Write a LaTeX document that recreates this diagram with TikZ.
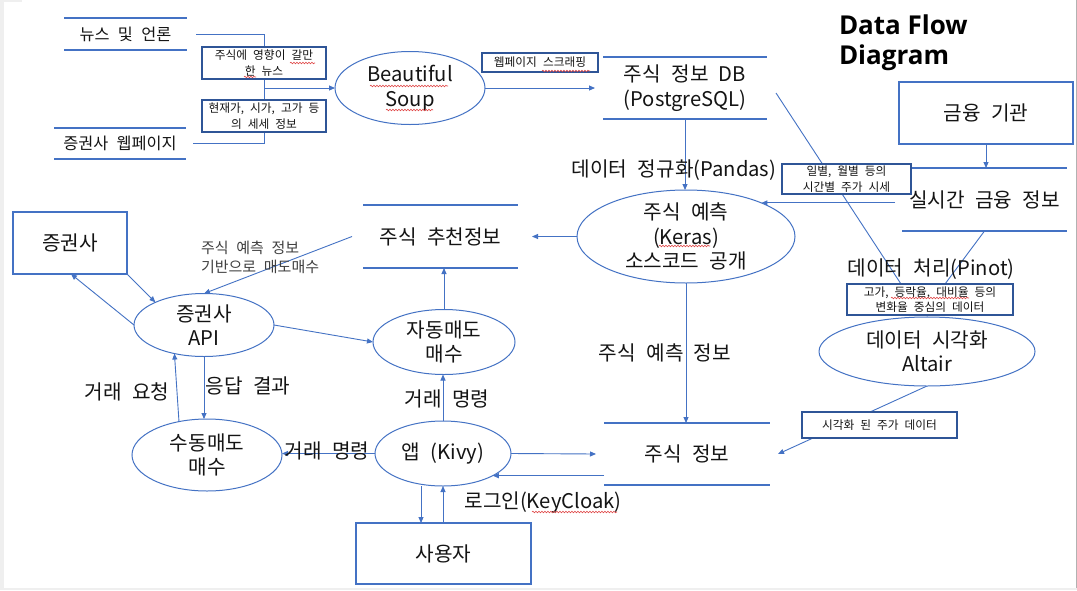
\documentclass[tikz,border=0pt]{standalone}
\usepackage{fontspec}
\setmainfont{Noto Sans CJK KR}[WordSpace=2.3]
\newfontfamily\titlefont{Open Sans}
\usetikzlibrary{shapes.geometric,arrows.meta,decorations.pathmorphing}
\definecolor{lineblue}{HTML}{4472C4}
\definecolor{boxblue}{HTML}{2F5597}
\definecolor{txt}{HTML}{141414}
\definecolor{txtb}{HTML}{404040}
\definecolor{pagegray}{HTML}{EFEFEF}
\definecolor{squig}{HTML}{E04848}
\pgfdeclarelayer{paper}
\pgfdeclarelayer{links}
\pgfsetlayers{paper,links,main}
\begin{document}
\begin{tikzpicture}[x=1pt,y=-1pt,
  every node/.style={text=txt,inner sep=0pt,outer sep=0pt},
  big/.style={font=\fontsize{20.2}{24.5}\selectfont,align=center},
  midtext/.style={font=\fontsize{16.3}{20}\selectfont,align=center},
  smalltext/.style={font=\fontsize{11.7}{15.5}\selectfont,align=center},
  storeline/.style={draw=lineblue,line width=1.6pt},
  proc/.style={ellipse,draw=lineblue,line width=1pt,fill=white},
  ext/.style={rectangle,draw=lineblue,line width=1.2pt,fill=white,big},
  lbox/.style={rectangle,draw=boxblue,line width=1.2pt,fill=white,smalltext},
  flow/.style={draw=lineblue,line width=0.9pt,-{Triangle[length=6pt,width=5pt]}},
  plain/.style={draw=lineblue,line width=0.9pt},
  squiggle/.style={draw=squig,line width=0.6pt,decorate,decoration={snake,amplitude=0.8pt,segment length=3pt}}
]
\useasboundingbox (0,0) rectangle (1077,590);
\begin{pgfonlayer}{paper}
  \fill[pagegray] (0,0) rectangle (1077,590);
  \fill[white] (4,0) rectangle (1076,588);
  \fill[pagegray] (4,0) rectangle (22,2);
  \draw[black!30,line width=1pt] (1076.5,0) -- (1076.5,588);
\end{pgfonlayer}

% stores and processes
\node[midtext,minimum width=123,minimum height=32] (news) at (125.5,34) {뉴스 및 언론};
\node[midtext,minimum width=132,minimum height=31] (web) at (120,143.5) {증권사 웹페이지};
\node[proc,minimum width=150,minimum height=73,label={[big]center:Beautiful\\Soup}] (soup) at (410,88) {};
\node[big,minimum width=164,minimum height=62] (db) at (685,88) {주식 정보 DB\\(PostgreSQL)};
\node[proc,minimum width=218,minimum height=93,label={[big]center:주식 예측\\(Keras)\\소스코드 공개}] (keras) at (686,236.5) {};
\node[big] (norm) at (674,170) {데이터 정규화(Pandas)};
\node[ext,minimum width=174,minimum height=62] (fin) at (986,113) {금융 기관};
\node[big,minimum width=165,minimum height=63] (rt) at (984.5,199.5) {실시간 금융 정보};
\node[big] (pinot) at (931,269) {데이터 처리(Pinot)};
\node[proc,minimum width=216,minimum height=69,label={[big]center:데이터 시각화\\Altair}] (altair) at (927,351.5) {};
\node[big,minimum width=166,minimum height=62] (si) at (687,454) {주식 정보};
\node[big] (predlbl) at (665,353) {주식 예측 정보};
\node[big,minimum width=155,minimum height=63] (rec) at (440.5,236.5) {주식 추천정보};
\node[ext,minimum width=114,minimum height=62] (sec) at (70,243) {증권사};
\node[font=\fontsize{15}{19}\selectfont,align=left,anchor=west,text=txtb] (basis) at (201,257.5) {주식 예측 정보\\기반으로 매도매수};
\node[proc,minimum width=140,minimum height=63,label={[big]center:증권사\\API}] (api) at (204,325) {};
\node[proc,minimum width=142,minimum height=65,label={[big]center:자동매도\\매수}] (auto) at (444,342) {};
\node[proc,minimum width=150,minimum height=72,label={[big]center:수동매도\\매수}] (manual) at (207,455) {};
\node[proc,minimum width=136,minimum height=65,label={[big]center:앱 (Kivy)}] (app) at (443,453.5) {};
\node[ext,minimum width=175,minimum height=61] (user) at (443.5,553.5) {사용자};
\node[big] (reqlbl) at (127,392) {거래 요청};
\node[big] (resplbl) at (248,386) {응답 결과};
\node[big] (cmdup) at (447,399) {거래 명령};
\node[big] (cmdleft) at (327,451) {거래 명령};
\node[big] (login) at (543,503) {로그인(KeyCloak)};
\node[font={\titlefont\fontsize{26}{30}\selectfont\bfseries},align=left,anchor=west,text=black] (title) at (839,43) {Data Flow\\Diagram};

% label boxes
\node[lbox,minimum width=124,minimum height=32] (b1) at (264,63) {주식에 영향이 갈만\\한 뉴스};
\node[lbox,minimum width=124,minimum height=32] (b2) at (264,116) {현재가, 시가, 고가 등\\의 세세 정보};
\node[lbox,minimum width=116,minimum height=19] (b3) at (540,62.5) {웹페이지 스크래핑};
\node[lbox,minimum width=129,minimum height=30] (b4) at (846.5,179) {일별, 월별 등의\\시간별 주가 시세};
\node[lbox,minimum width=166,minimum height=31] (chg) at (930,299.5) {고가, 등락율, 대비율 등의\\변화율 중심의 데이터};
\node[lbox,minimum width=155,minimum height=26] (b6) at (879.5,425) {시각화 된 주가 데이터};

\begin{pgfonlayer}{links}
  \coordinate (jn) at (264,88);
  \draw[plain] ([xshift=9]news.east) -| (jn);
  \draw[plain] ([xshift=7]web.east) -| (jn);
  \draw[flow] (jn) -- (soup.west);
  \draw[flow] (soup.east) -- ([xshift=-8]db.west);
  \draw[flow] (db.south) -- (db.south |- keras.north);
  \draw[flow] (fin.south) -- (fin.south |- rt.north);
  \draw[flow] (rt.west |- keras.24) ++(-7,0) -- (keras.24);
  \draw[plain] ([xshift=9,yshift=-5]db.east) -- ([xshift=-29]chg.north);
  \draw[plain] (rt.south) -- ([xshift=15]chg.north);
  \draw[flow] (chg.center) -- (altair.north);
  \draw[flow] (altair.south) -- ([xshift=8]si.east);
  \draw[flow] (keras.south) -- (keras.south |- si.north);
  \draw[flow] (keras.west) -- ([xshift=14]rec.east);
  \draw[flow] ([xshift=-11]rec.west) -- (api.north);
  \draw[flow] (sec.south east) -- (api.155);
  \draw[flow] (api.west) -- ([xshift=1]sec.south);
  \draw[flow] (api.east) -- (auto.west);
  \draw[flow] (auto.north) -- (auto.north |- rec.south);
  \draw[flow] (manual.130) -- (api.224);
  \draw[flow] (api.south) -- (api.south |- manual.north);
  \draw[flow] (app.north) -- (app.north |- auto.south);
  \draw[flow] (app.west) -- (app.west -| manual.east);
  \draw[flow] (app.east) -- ([xshift=-8]si.west);
  \draw[flow] (si.west |- app.336) -- (app.336);
  \draw[flow] ([xshift=-22]app.south) -- ([xshift=-22]app.south |- user.north);
  \draw[flow] (app.south |- user.north) -- (app.south);
  \foreach \s in {news,web,db,rt,rec,si}
    \draw[storeline] (\s.north west) -- (\s.north east) (\s.south west) -- (\s.south east);
\end{pgfonlayer}

% spell-check marks
\draw[squiggle] (290,63) -- (315,63);
\draw[squiggle] (244,77) -- (256,77);
\draw[squiggle] (542,71) -- (590,71);
\draw[squiggle] (370,86) -- (448,86);
\draw[squiggle] (386,110) -- (433,110);
\draw[squiggle] (659,246) -- (710,246);
\draw[squiggle] (891,298) -- (969,298);
\draw[squiggle] (532,512) -- (617,512);
\end{tikzpicture}
\end{document}
